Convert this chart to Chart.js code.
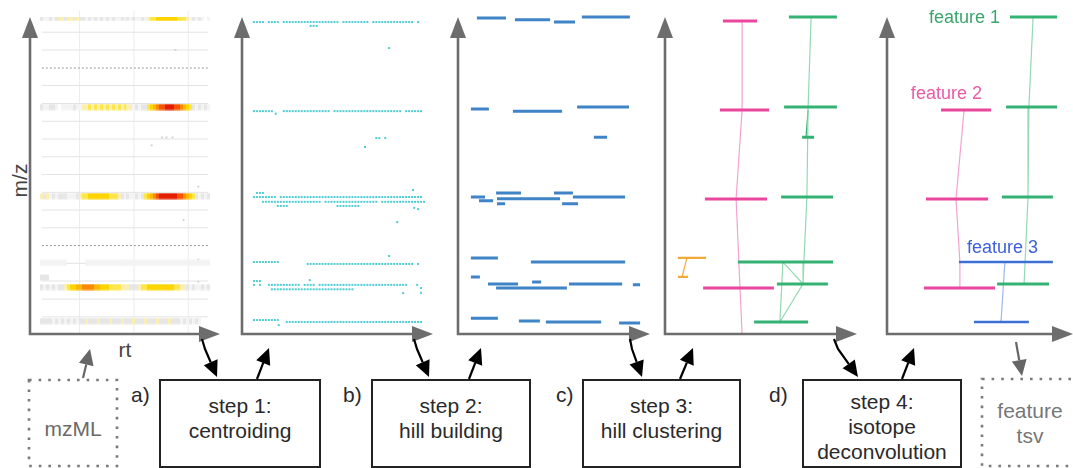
<!DOCTYPE html>
<html><head><meta charset="utf-8">
<script src="https://cdn.jsdelivr.net/npm/chart.js@4"></script>
<style>
html,body{margin:0;padding:0;background:#fff}
body{position:relative;width:1073px;height:468px;overflow:hidden;font-family:"Liberation Sans",Arial,Helvetica,sans-serif}
.box{position:absolute;top:379px;height:89px;border:2px solid #232323;box-sizing:border-box;text-align:center;font-size:21px;line-height:25px;color:#2a2a2a}
.tag{position:absolute;font-size:21px;line-height:24px;color:#2a2a2a}
.txt{position:absolute;text-align:center;font-size:21px;line-height:25px}
svg{position:absolute;left:0;top:0}
</style></head>
<body>
<div class="txt" style="left:-1px;top:168px;width:40px;color:#444;transform:rotate(-90deg)">m/z</div>
<div class="txt" style="left:105px;top:337px;width:40px;color:#444">rt</div>
<div class="txt" style="left:29px;top:416px;width:88px;color:#6a6a6a">mzML</div>
<div class="tag" style="left:131px;top:383px">a)</div>
<div class="box" style="left:159px;width:162px;padding-top:12px">step 1:<br>centroiding</div>
<div class="tag" style="left:343px;top:383px">b)</div>
<div class="box" style="left:371px;width:160px;padding-top:12px">step 2:<br>hill building</div>
<div class="tag" style="left:556px;top:383px">c)</div>
<div class="box" style="left:582px;width:159px;padding-top:12px">step 3:<br>hill clustering</div>
<div class="tag" style="left:769px;top:383px">d)</div>
<div class="box" style="left:802px;width:160px;padding-top:8px">step 4:<br>isotope<br>deconvolution</div>
<div class="txt" style="left:982px;top:398px;width:96px;color:#777">feature<br>tsv</div>
<script>
// ================= DATA =================
// a) raw profile data: heat-map rows (m/z), start rt, intensity level per rt unit (0-9)
const heatMz      = [99.7, 71.6, 43.5, 22.4, 17.8, 14.8, 4.1];
const heatStartRt = [4, 4, 4, 4, 4, 4, 4];
const heatLevels  = [
  "211212" + "33233232" + "2121212121211212121121" + "34455555554443" + "1212101",
  "21122101111211" + "33434343434343433" + "12122" + "456788999887654" + "212121",
  "32312122211123" + "4455555554443" + "21211212" + "45678999999887654" + "21212",
  "111111111" + "000000" + "111111111111111111111111111111111111111111",
  "222",
  "21212122" + "34556677776655544443332" + "22" + "3445555555554433" + "21211212",
  "222212121212122322232223222322232223222322232221212121"
];
const heatSpeckRt = [49, 41, 44.5, 46, 48, 51.7, 56.7, 56.7, 56.7];
const heatSpeckMz = [89.6, 59.5, 62, 62, 62, 36, 46.5, 23.5, 16.5];
const gridMz      = [95.2, 89.6, 78.4, 72.7, 67.1, 61.5, 55.9, 50.3, 44.7, 39.1, 33.5, 22.3, 16.7, 11, 5.4];
const gridDottedMz = [83.9, 27.9];
const gridRt      = [16.7, 35, 53.3];
const gridRtRange = [4, 60];

// b) centroids: rows of centroid points (m/z, start rt, presence per rt unit)
const centroidRowMz    = [98.4, 97.2, 70.3, 44.5, 43.2, 41.7, 40.4, 40.4, 22.7, 22.1, 16.7, 15.5, 14.1, 4.4, 3.8];
const centroidRowStart = [4, 23, 4, 5, 4, 7, 12, 32, 4, 22, 4, 4, 10, 4, 15];
const centroidRowHits  = [
  "oooo.oooo.ooooooooooooooooooo.ooooooooo.oooooooooooooo.o",
  "ooo",
  "ooooooo...oooooooooooooooo.ooooooooooooooooooooooo.oooooo",
  "ooo",
  "oooooooo.oooooooooooooooooooooooooooooooooooooooooooooooo",
  "oooooooooooooooooooo.oooooooooooooooooo.ooooooooooooooo",
  "oooo",
  "oooooooo",
  "ooooooooo",
  "oooooooooooooooooooooooooooooooooooo.o",
  "ooo",
  "o.o..ooooooooooo.oooo.oooooooooooooooooooooooooooooo",
  "oooooooooooooooooooooooooooo",
  "ooooooooo",
  "oooooooooooooooooooooooooooooooooooooooooooooo"
];
const centroidLoneRt = [49.3, 11.3, 41.2, 45, 46, 48, 57.3, 57.7, 59, 52, 49.3, 58.7, 60, 60, 54, 22.7, 12.3];
const centroidLoneMz = [90.2, 69.5, 59, 61.8, 61.8, 61.8, 45.4, 39.8, 39.4, 35.3, 24.6, 15.5, 14.5, 13, 12.9, 17, 2.8];

// c) hills: [rt start, rt end, m/z]
const hills = [
  [6.3, 16, 99.7], [19, 30.7, 99.1], [32, 39, 98.4], [41.3, 57.3, 100],
  [4.3, 10.3, 71], [18.3, 34.7, 70.3], [39.7, 57, 71.6],
  [45.3, 49.7, 62.1],
  [4.3, 9, 43.2], [7, 11.7, 42], [12.7, 21, 44.5], [13, 34, 42.7], [13, 15.7, 41.1],
  [32, 38.3, 44.5], [38.3, 55.7, 43.2], [34.7, 40, 41.1],
  [4.3, 13.3, 24], [24.3, 55.7, 22.7],
  [4.3, 7.3, 18],
  [10, 20, 15.8], [24.7, 27.7, 16.4], [12.7, 36.3, 14.5], [37, 54.7, 15.8], [58.3, 60.7, 15.5],
  [4.3, 13.3, 5], [20.3, 27.3, 4.1], [29.3, 47.7, 3.8], [53.7, 60.7, 3.5]
];

// d) hill clusters
const pinkHills   = [[19.3, 30.7, 98.7], [18.3, 34.7, 70.7], [13.3, 34, 42.6], [12.7, 36.3, 14.5]];
const pinkLinkRt  = [25.7, 25.7, 23.7, 25, 25.7];
const pinkLinkMz  = [98.7, 70.7, 42.6, 14.5, 0];
const greenHills  = [[41.3, 57.3, 100], [39.7, 57.3, 71.6], [45.7, 49.7, 62.1], [38.7, 56, 43.2],
                     [24.3, 56, 22.7], [37.3, 54.3, 15.8], [29.7, 47.7, 3.8]];
const greenLinkRt = [48.7, 47.7, 47.3, 46.3, 46];
const greenLinkMz = [100, 71.6, 43.2, 22.7, 15.8];
const greenSubRt  = [47.7, 47];
const greenSubMz  = [70.7, 62.1];
const greenTriRt  = [39.3, 46, 38.3, 39.3];
const greenTriMz  = [22.7, 15.8, 3.8, 22.7];
const orangeHills = [[4.3, 13.7, 24], [4.3, 7.7, 18]];
const orangeLinkRt = [7.3, 5.7];
const orangeLinkMz = [24, 18];

// e) deconvoluted features
const f1Hills  = [[41, 56.7, 100], [39.7, 56.7, 71.6], [38.3, 55.3, 43.2], [36.7, 54, 15.8]];
const f1LinkRt = [48.7, 47.3, 47, 45.7];
const f1LinkMz = [100, 71.6, 43.2, 15.8];
const f2Hills  = [[18, 34.7, 70.7], [13, 33.7, 42.6], [12.3, 36, 14.5]];
const f2LinkRt = [25.7, 23, 24.3, 24.3];
const f2LinkMz = [70.7, 42.6, 22.7, 14.5];
const f3Hills  = [[24, 55.3, 22.7], [29, 47.3, 3.8]];
const f3LinkRt = [39.3, 38];
const f3LinkMz = [22.7, 3.8];
const featureNames = ["feature 1", "feature 2", "feature 3"];
const featureLabelRt = [37.7, 19.8, 38.5];
const featureLabelMz = [99.7, 75.7, 27.1];

// ================= STYLE / LAYOUT =================
const PANEL_LEFT = [30, 242, 458, 665, 887];
const PANEL_W    = [192, 192, 192, 192, 186];
const HEAT_COLORS = [null, '#f3f3f3', '#e6e6e6', '#faefb0', '#fde64a', '#fdd400', '#fcb800', '#fb8a00', '#f45400', '#e41c00'];
const C = {cyan:'#4ccbd3', hill:'#3f84c6', pink:'#e8479d', pinkL:'#f3a3cf', green:'#34b273', greenL:'#92d9b4',
  orange:'#f1a93a', blue:'#3c6fd3', blueL:'#9db8ee', lab1:'#3aa66b', lab2:'#ea5aa6', lab3:'#3d5fd9', axis:'#6d6d6d'};

const cellImgs = HEAT_COLORS.map(col => {
  if (!col) return null;
  const c = document.createElement('canvas'); c.width = 3; c.height = 7;
  const g = c.getContext('2d');
  g.fillStyle = col; g.globalAlpha = 0.5; g.fillRect(0, 0, 3, 7);
  g.globalAlpha = 1; g.fillRect(0, 1, 3, 5);
  return c;
});

const axisArrows = {
  id: 'axisArrows',
  afterDatasetsDraw(chart) {
    const {ctx, chartArea: {left, right, top, bottom}} = chart;
    ctx.save();
    ctx.strokeStyle = ctx.fillStyle = C.axis; ctx.lineWidth = 2.6;
    ctx.beginPath();
    ctx.moveTo(left, bottom + 1.3); ctx.lineTo(left, top + 18);
    ctx.moveTo(left - 1.3, bottom); ctx.lineTo(right - 18, bottom);
    ctx.stroke();
    ctx.beginPath(); ctx.moveTo(left, top); ctx.lineTo(left - 8, top + 21); ctx.lineTo(left + 8, top + 21); ctx.closePath(); ctx.fill();
    ctx.beginPath(); ctx.moveTo(right, bottom); ctx.lineTo(right - 21, bottom - 8); ctx.lineTo(right - 21, bottom + 8); ctx.closePath(); ctx.fill();
    ctx.restore();
  }
};

const featureLabels = {
  id: 'featureLabels',
  afterDatasetsDraw(chart) {
    const {ctx, scales: {x, y}} = chart;
    const cols = [C.lab1, C.lab2, C.lab3], aligns = ['right', 'center', 'center'];
    ctx.save(); ctx.font = '18px "Liberation Sans", Arial, sans-serif'; ctx.textBaseline = 'middle';
    featureNames.forEach((t, i) => {
      ctx.fillStyle = cols[i]; ctx.textAlign = aligns[i];
      ctx.fillText(t, x.getPixelForValue(featureLabelRt[i]), y.getPixelForValue(featureLabelMz[i]));
    });
    ctx.restore();
  }
};

function zip(rt, mz) { return rt.map((r, i) => ({x: r, y: mz[i]})); }
function hillPts(list) { return list.flatMap(([s, e, m]) => [{x: s, y: m}, {x: e, y: m}, {x: e, y: null}]); }
function lineDs(data, color, width, extra) {
  return Object.assign({data, showLine: true, borderColor: color, borderWidth: width, pointRadius: 0,
    borderCapStyle: 'butt', tension: 0, clip: false, spanGaps: false}, extra || {});
}

function makeChart(idx, datasets, extraPlugins) {
  const padL = 14, padR = idx === 4 ? 0 : 3, padT = 17, padB = 16;
  const w = PANEL_W[idx] + padL + padR, h = 334 + padB;
  const cv = document.createElement('canvas');
  cv.width = w; cv.height = h;
  cv.style.cssText = `position:absolute;left:${PANEL_LEFT[idx] - padL}px;top:0;width:${w}px;height:${h}px`;
  document.body.appendChild(cv);
  new Chart(cv, {
    type: 'scatter',
    data: {datasets},
    options: {
      responsive: false, animation: false, events: [],
      layout: {padding: {left: padL, right: padR, top: padT, bottom: padB}},
      plugins: {legend: {display: false}, tooltip: {enabled: false}},
      scales: {x: {type: 'linear', min: 0, max: PANEL_W[idx] / 3, display: false},
               y: {type: 'linear', min: 0, max: 100, display: false}}
    },
    plugins: [axisArrows].concat(extraPlugins || [])
  });
}

// ---- panel a
const heatPts = [];
heatLevels.forEach((row, r) => {
  for (let i = 0; i < row.length; i++) {
    const v = +row[i];
    if (v > 0) heatPts.push({x: heatStartRt[r] + i, y: heatMz[r], v});
  }
});
const gridDs = [];
gridMz.forEach(m => gridDs.push(lineDs([{x: gridRtRange[0], y: m}, {x: gridRtRange[1], y: m}], '#e3e3e3', 1, {order: 10})));
gridDottedMz.forEach(m => gridDs.push(lineDs([{x: gridRtRange[0], y: m}, {x: gridRtRange[1], y: m}], '#9a9a9a', 1, {order: 9, borderDash: [2, 2]})));
gridRt.forEach(r => gridDs.push(lineDs([{x: r, y: 0}, {x: r, y: 102}], '#ececec', 1, {order: 10})));
makeChart(0, [
  {data: heatPts, pointStyle: ctx => cellImgs[ctx.raw ? ctx.raw.v : 1] || false, pointRadius: 2, order: 1},
  {data: zip(heatSpeckRt, heatSpeckMz), pointStyle: 'rect', pointRadius: 1.3, backgroundColor: '#cfcfcf', borderWidth: 0, order: 2},
  ...gridDs
]);

// ---- panel b
const centroidPts = [];
centroidRowHits.forEach((row, r) => {
  for (let i = 0; i < row.length; i++) if (row[i] === 'o') centroidPts.push({x: centroidRowStart[r] + i, y: centroidRowMz[r]});
});
makeChart(1, [
  {data: centroidPts.concat(zip(centroidLoneRt, centroidLoneMz)), pointStyle: 'rect', pointRadius: 1.4,
   backgroundColor: C.cyan, borderWidth: 0}
]);

// ---- panel c
makeChart(2, [lineDs(hillPts(hills), C.hill, 3)]);

// ---- panel d
makeChart(3, [
  lineDs(hillPts(pinkHills), C.pink, 3),
  lineDs(hillPts(greenHills), C.green, 3),
  lineDs(hillPts(orangeHills), C.orange, 2.2),
  lineDs(zip(pinkLinkRt, pinkLinkMz), C.pinkL, 1.2),
  lineDs(zip(greenLinkRt, greenLinkMz), C.greenL, 1.2),
  lineDs(zip(greenSubRt, greenSubMz), C.green, 1.2),
  lineDs(zip(greenTriRt, greenTriMz), C.greenL, 1.2),
  lineDs(zip(orangeLinkRt, orangeLinkMz), C.orange, 1.2)
]);

// ---- panel e
makeChart(4, [
  lineDs(hillPts(f1Hills), C.green, 3),
  lineDs(hillPts(f2Hills), C.pink, 3),
  lineDs(hillPts(f3Hills), C.blue, 2.5),
  lineDs(zip(f1LinkRt, f1LinkMz), C.greenL, 1.2),
  lineDs(zip(f2LinkRt, f2LinkMz), C.pinkL, 1.2),
  lineDs(zip(f3LinkRt, f3LinkMz), C.blueL, 1.2)
], [featureLabels]);

// ---- flow-diagram connectors (decoration)
const flowArrows = [
  {pts: [[83, 378], [90, 349]], col: '#666'},
  {pts: [[1016, 342], [1022, 376]], col: '#666'},
  {pts: [[202, 339], [205, 349], [217, 377]], col: '#000'},
  {pts: [[257, 379], [269, 348]], col: '#000'},
  {pts: [[414, 339], [417, 349], [429, 377]], col: '#000'},
  {pts: [[469, 379], [481, 348]], col: '#000'},
  {pts: [[630, 339], [632, 349], [642, 377]], col: '#000'},
  {pts: [[680, 379], [693, 348]], col: '#000'},
  {pts: [[834, 339], [838, 349], [858, 377]], col: '#000'},
  {pts: [[902, 379], [914, 348]], col: '#000'}
];
let svg = '<svg width="1073" height="468" xmlns="http://www.w3.org/2000/svg">';
svg += '<rect x="29" y="380" width="88" height="86" fill="none" stroke="#7a7a7a" stroke-width="2.6" stroke-dasharray="2.6 7" />';
svg += '<rect x="982" y="379" width="110" height="87" fill="none" stroke="#7a7a7a" stroke-width="2.6" stroke-dasharray="2.6 7" />';
flowArrows.forEach(a => {
  const p = a.pts, n = p.length, tip = p[n - 1], prev = p[n - 2];
  const dx = tip[0] - prev[0], dy = tip[1] - prev[1], len = Math.hypot(dx, dy);
  const ux = dx / len, uy = dy / len, L = 16, hw = 7.5;
  const bx = tip[0] - ux * L, by = tip[1] - uy * L;
  const line = p.slice(0, n - 1).map(q => q.join(',')).concat([bx + ',' + by]).join(' ');
  svg += `<polyline points="${line}" fill="none" stroke="${a.col}" stroke-width="2.2" />`;
  svg += `<polygon points="${tip[0]},${tip[1]} ${bx - uy * hw},${by + ux * hw} ${bx + uy * hw},${by - ux * hw}" fill="${a.col}" />`;
});
svg += '</svg>';
document.body.insertAdjacentHTML('beforeend', svg);
</script>
</body></html>
